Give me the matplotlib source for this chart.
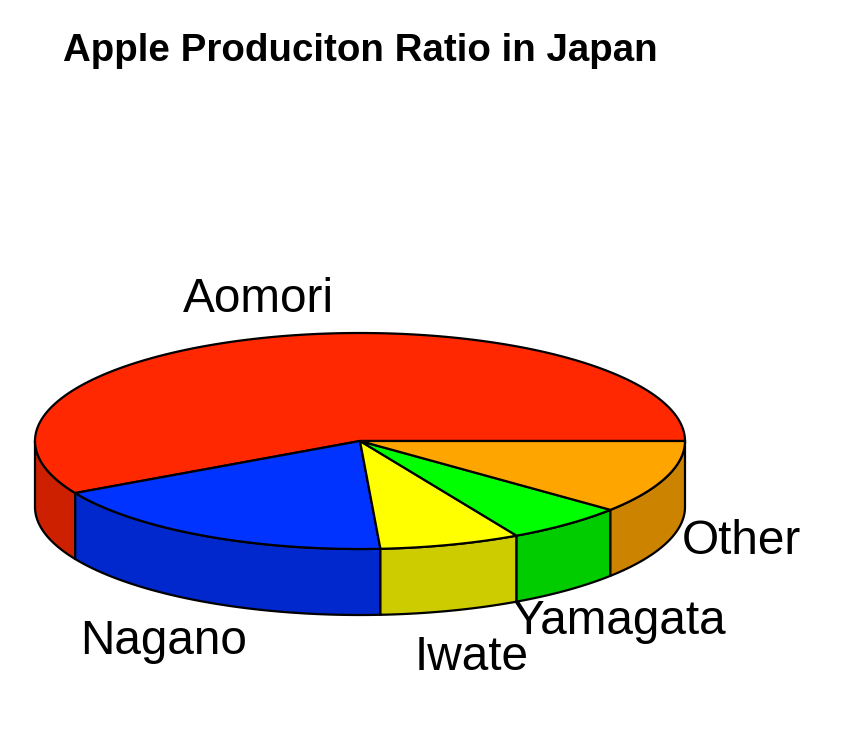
import matplotlib
matplotlib.use("Agg")
import matplotlib.pyplot as plt
import numpy as np
from matplotlib.patches import Polygon

plt.rcParams['font.family'] = ['Liberation Sans', 'DejaVu Sans']

# Data
labels = ["Aomori", "Nagano", "Iwate", "Yamagata", "Other"]
values = [58, 18, 7, 6, 11]
top_colors = ["#FF2800", "#0033FF", "#FFFF00", "#00FF00", "#FFA500"]
side_colors = ["#CC2000", "#0028CC", "#CCCC00", "#00CC00", "#CC8400"]
title = "Apple Produciton Ratio in Japan"

# Geometry in pixels of the output image
cx, cy = 360, 441
rx, ry = 325, 108
depth = 66
label_pos = [(258, 300), (164, 641), (472, 657), (619, 621), (741, 541)]


def ell(t):
    return cx + rx*np.cos(t), cy - ry*np.sin(t)


fig = plt.figure(figsize=(8.42, 7.4), dpi=100)
ax = fig.add_axes([0, 0, 1, 1])
ax.set_xlim(0, 842)
ax.set_ylim(740, 0)
ax.axis('off')

fracs = np.array(values) / sum(values)
edges = 2*np.pi*np.concatenate([[0], np.cumsum(fracs)])

# sides first, only the front half of the rim shows
for i in range(len(values)):
    a = max(edges[i], np.pi)
    b = edges[i+1]
    if b <= a:
        continue
    t = np.linspace(a, b, 200)
    x, y = ell(t)
    xs = np.concatenate([x, x[::-1]])
    ys = np.concatenate([y, y[::-1] + depth])
    ax.add_patch(Polygon(np.column_stack([xs, ys]), closed=True, fc=side_colors[i],
                         ec="black", lw=1.6, joinstyle="round", zorder=2))

# top of the pie
for i in range(len(values)):
    t = np.linspace(edges[i], edges[i+1], 400)
    x, y = ell(t)
    xs = np.concatenate([[cx], x])
    ys = np.concatenate([[cy], y])
    ax.add_patch(Polygon(np.column_stack([xs, ys]), closed=True, fc=top_colors[i],
                         ec="black", lw=1.6, joinstyle="round", zorder=3))

for lab, (x, y) in zip(labels, label_pos):
    ax.text(x, y, lab, fontsize=34.4, ha="center", va="center", color="black", zorder=4)

ax.text(63, 51, title, fontsize=27.7, fontweight="bold", ha="left", va="center")

fig.savefig("out.png", dpi=100)
